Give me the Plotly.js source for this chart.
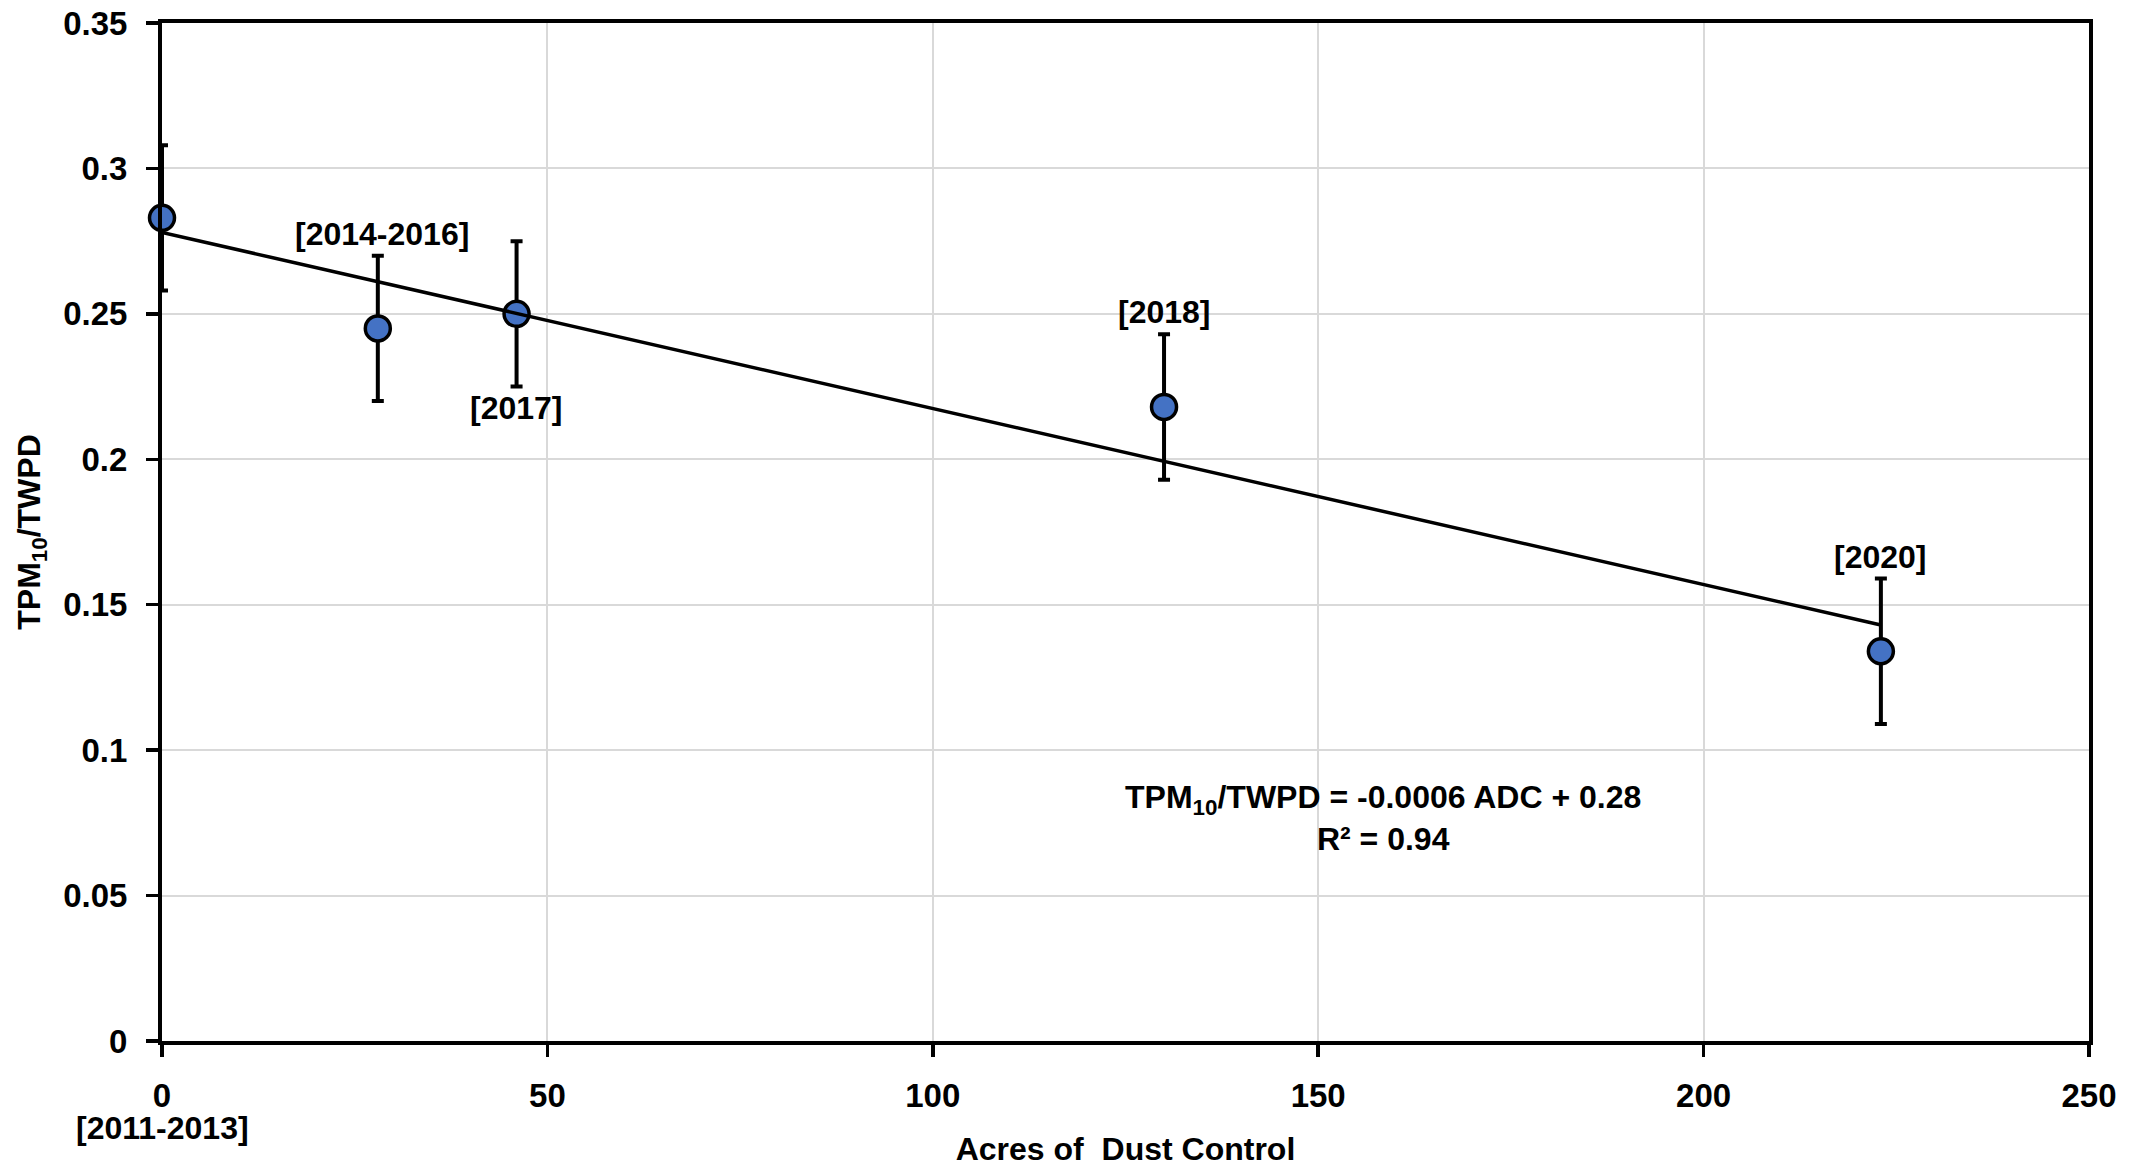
<!DOCTYPE html>
<html>
<head>
<meta charset="utf-8">
<script src="https://cdn.plot.ly/plotly-3.0.1.min.js"></script>
<style>html,body{margin:0;padding:0;background:#fff;}#chart{width:2148px;height:1167px;}</style>
</head>
<body>
<div id="chart"></div>
<script>
// Data
const acres = [0, 28, 46, 130, 223];
const ratio = [0.283, 0.245, 0.25, 0.218, 0.134];
const errs = [0.025, 0.025, 0.025, 0.025, 0.025];

const trendX = [0, 223];
const trendY = [0.278, 0.143];

const labelText = ["[2014-2016]", "[2017]", "[2018]", "[2020]"];
const labelX = [28.5, 46, 130, 223];
const labelY = [0.2774, 0.2176, 0.2506, 0.1663];

const bottomLabel = "[2011-2013]";
const equation = "TPM<sub>10</sub>/TWPD = -0.0006 ADC + 0.28<br>R² = 0.94";

const FONT = "'Liberation Sans', Arial, sans-serif";
const FS = 32;

const traces = [
  {
    x: acres, y: ratio, type: 'scatter', mode: 'markers',
    error_y: {type: 'data', array: errs, visible: true, color: '#000', thickness: 4, width: 6},
    marker: {size: 25, color: '#4472C4', line: {color: '#000', width: 3.5}},
    cliponaxis: false, showlegend: false, hoverinfo: 'skip'
  },
  {
    x: trendX, y: trendY, type: 'scatter', mode: 'lines',
    line: {color: '#000', width: 3.5}, showlegend: false, hoverinfo: 'skip'
  }
];

const annotations = labelText.map((t, i) => ({
  x: labelX[i], y: labelY[i], xref: 'x', yref: 'y', text: '<b>' + t + '</b>',
  showarrow: false, font: {family: FONT, size: FS, color: '#000'}
}));
annotations.push({
  x: 0, y: -0.085, xref: 'x', yref: 'paper', yanchor: 'middle', xanchor: 'center',
  text: '<b>' + bottomLabel + '</b>',
  showarrow: false, font: {family: FONT, size: FS, color: '#000'}
});
annotations.push({
  x: 158.4, y: 0.0767, xref: 'x', yref: 'y', text: '<b>' + equation + '</b>',
  showarrow: false, align: 'center', font: {family: FONT, size: FS, color: '#000'}
});

const layout = {
  width: 2148, height: 1167,
  margin: {l: 162, r: 59, t: 23, b: 126},
  paper_bgcolor: '#fff', plot_bgcolor: '#fff',
  font: {family: FONT, size: FS, color: '#000'},
  xaxis: {
    range: [0, 250], dtick: 50, tick0: 0,
    showgrid: true, gridcolor: '#d9d9d9', gridwidth: 2,
    showline: true, linecolor: '#000', linewidth: 4, mirror: true,
    ticks: 'outside', ticklen: 12, tickwidth: 3.5, tickcolor: '#000',
    ticklabelstandoff: 10,
    zeroline: false,
    tickfont: {family: FONT, size: 33, color: '#000', weight: 'bold'},
    title: {text: '<b>Acres of  Dust Control</b>', font: {family: FONT, size: FS, color: '#000'}, standoff: 40}
  },
  yaxis: {
    range: [0, 0.35], dtick: 0.05, tick0: 0,
    showgrid: true, gridcolor: '#d9d9d9', gridwidth: 2,
    showline: true, linecolor: '#000', linewidth: 4, mirror: true,
    ticks: 'outside', ticklen: 12, tickwidth: 3.5, tickcolor: '#000',
    ticklabelstandoff: 12,
    zeroline: false,
    tickfont: {family: FONT, size: 33, color: '#000', weight: 'bold'},
    title: {text: '<b>TPM<sub>10</sub>/TWPD</b>', font: {family: FONT, size: FS, color: '#000'}, standoff: 14}
  },
  annotations: annotations
};

Plotly.newPlot('chart', traces, layout, {displayModeBar: false, staticPlot: true});
</script>
</body>
</html>
